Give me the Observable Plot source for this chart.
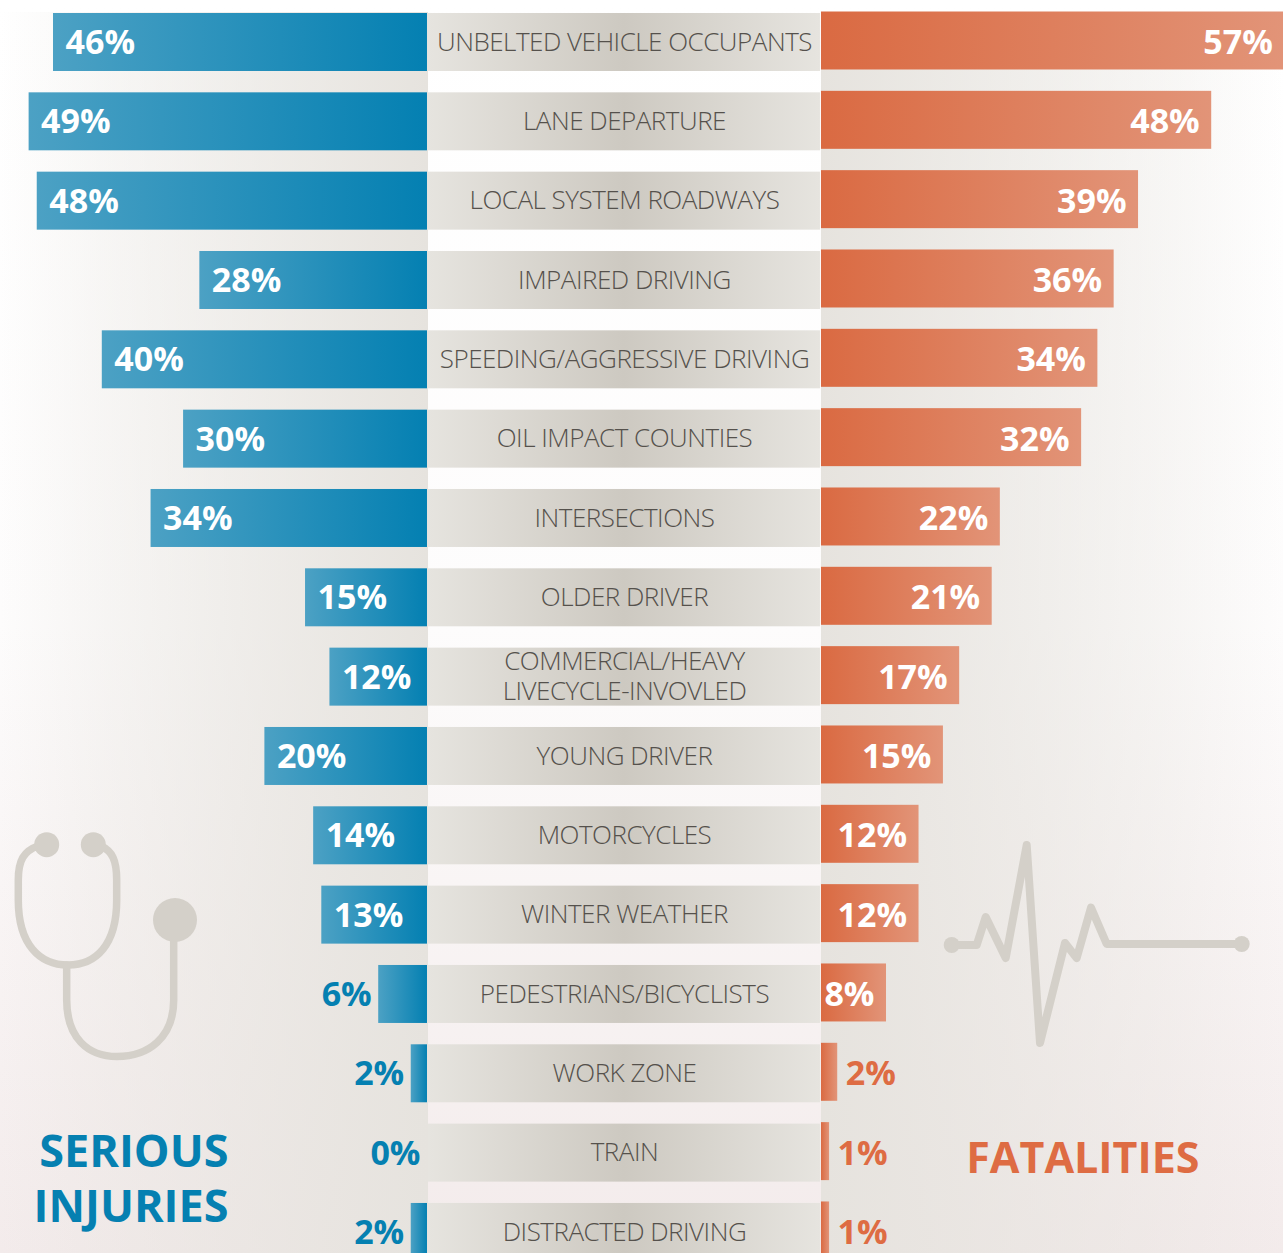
<!DOCTYPE html>
<html>
<head>
<meta charset="utf-8">
<script src="https://cdn.jsdelivr.net/npm/d3@7"></script>
<script src="https://cdn.jsdelivr.net/npm/@observablehq/plot@0.6"></script>
<style>
  html, body { margin: 0; padding: 0; background: #fff; }
  #chart {
    position: relative; width: 1283px; height: 1253px; overflow: hidden;
    background-repeat: no-repeat;
    background-image:
      linear-gradient(to right, rgba(230,227,222,0), rgba(230,227,222,.3) 25%, rgba(230,227,222,.55) 50%, rgb(230,227,222)),
      linear-gradient(to left, rgba(230,227,222,0), rgba(230,227,222,.3) 25%, rgba(230,227,222,.55) 50%, rgb(230,227,222)),
      linear-gradient(#fff 0%, #fdfcfc 50%, #f3ebeb 100%);
    background-size: 428px 1241px, 462px 1241px, 100% 100%;
    background-position: 0 12px, 821px 12px, 0 0;
  }
  #chart svg { display: block; }
  #chart g[font-size="26"] { letter-spacing: -0.5px; }
</style>
</head>
<body>
<div id="chart"></div>
<script>
const categories = [
  "UNBELTED VEHICLE OCCUPANTS", "LANE DEPARTURE", "LOCAL SYSTEM ROADWAYS", "IMPAIRED DRIVING",
  "SPEEDING/AGGRESSIVE DRIVING", "OIL IMPACT COUNTIES", "INTERSECTIONS", "OLDER DRIVER",
  "COMMERCIAL/HEAVY\nLIVECYCLE-INVOVLED", "YOUNG DRIVER", "MOTORCYCLES", "WINTER WEATHER",
  "PEDESTRIANS/BICYCLISTS", "WORK ZONE", "TRAIN", "DISTRACTED DRIVING"
];
const seriousInjuries = [46, 49, 48, 28, 40, 30, 34, 15, 12, 20, 14, 13, 6, 2, 0, 2];
const fatalities = [57, 48, 39, 36, 34, 32, 22, 21, 17, 15, 12, 12, 8, 2, 1, 1];

const BLUE = "#0580b1", ORANGE = "#de6c43";
const LABEL_FONT = "'Open Sans', 'Noto Sans', sans-serif";
const gapWidth = 48.46;               // width of the category band, in percentage points
const rows = categories.map((name, i) => ({name, injury: seriousInjuries[i], death: fatalities[i]}));

const defs = () => {
  const g = d3.create("svg:defs");
  g.html(`
    <linearGradient id="gBlue"><stop offset="0" stop-color="#4ca1c4"/><stop offset="1" stop-color="#0480b2"/></linearGradient>
    <linearGradient id="gOrange"><stop offset="0" stop-color="#da6a42"/><stop offset="1" stop-color="#e29478"/></linearGradient>
    <linearGradient id="gBand"><stop offset="0" stop-color="#e6e4df"/><stop offset=".5" stop-color="#cdc9c1"/><stop offset="1" stop-color="#e6e4df"/></linearGradient>`);
  return g.node();
};

// Decorative pictograms (not data)
const icons = () => {
  const g = d3.create("svg:g").attr("fill", "none").attr("stroke", "#d4d0c9")
    .attr("stroke-linecap", "round").attr("stroke-linejoin", "round");
  g.html(`
    <path stroke-width="7.5" d="M38 846C24 851 18.3 860 18.3 880L18.3 900C18.3 945 40 965 68 965C96 965 116.7 945 116.7 900L116.7 880C116.7 860 112 851 101 846"/>
    <path stroke-width="7.5" d="M66.7 965L66.7 1000C66.7 1038 88 1056.5 117 1056.5C148 1056.5 173.7 1038 173.7 1000L173.7 920"/>
    <circle cx="46.7" cy="844.7" r="12.5" fill="#d4d0c9" stroke="none"/>
    <circle cx="93.3" cy="844.7" r="12.5" fill="#d4d0c9" stroke="none"/>
    <circle cx="175" cy="920" r="22" fill="#d4d0c9" stroke="none"/>
    <path stroke-width="8" d="M951.7 945L976.7 945L985.7 917L1005.7 958L1026.7 845L1040 1043L1065 943L1076.7 958L1091 907.7L1106.7 944L1241.7 944"/>
    <circle cx="951.7" cy="945" r="8" fill="#d4d0c9" stroke="none"/>
    <circle cx="1241.7" cy="944" r="8" fill="#d4d0c9" stroke="none"/>`);
  return g.node();
};

const pctText = (d, key) => `${d[key]}%`;
const pct = {fontSize: 34, fontWeight: 700, dy: 0.5};
const heading = {fontFamily: LABEL_FONT, fontWeight: 700, textAnchor: "end", frameAnchor: "top-left", lineAnchor: "top"};

const plot = Plot.plot({
  width: 1283, height: 1253,
  marginTop: 0, marginRight: 0, marginBottom: 0, marginLeft: 0,
  style: {background: "transparent", fontFamily: LABEL_FONT},
  x: {axis: null, domain: [-52.52, 105.29], range: [0, 1283]},
  y: {axis: null, type: "band", domain: categories, range: [13, 1260.95], paddingInner: 0.269, paddingOuter: 0, align: 0, round: false},
  marks: [
    defs,
    icons,
    Plot.barX(rows, {y: "name", x1: 0, x2: gapWidth, fill: "url(#gBand)", insetLeft: 1, insetRight: 1}),
    Plot.barX(rows.filter(d => d.injury > 0), {y: "name", x1: d => -d.injury, x2: 0, fill: "url(#gBlue)"}),
    Plot.barX(rows, {y: "name", x1: gapWidth, x2: d => gapWidth + d.death, fill: "url(#gOrange)", dy: -1.5}),
    Plot.text(rows, {y: "name", x: gapWidth / 2, text: "name", fill: "#55514c", fontSize: 26, fontWeight: 300, lineHeight: 1.15, dy: -1.5}),
    Plot.text(rows.filter(d => d.injury >= 10), {...pct, y: "name", x: d => -d.injury, text: d => pctText(d, "injury"), fill: "#fff", textAnchor: "start", dx: 12}),
    Plot.text(rows.filter(d => d.injury < 10), {...pct, y: "name", x: d => -d.injury, text: d => pctText(d, "injury"), fill: BLUE, textAnchor: "end", dx: -7}),
    Plot.text(rows.filter(d => d.death >= 5), {...pct, y: "name", x: d => gapWidth + d.death, text: d => pctText(d, "death"), fill: "#fff", textAnchor: "end", dx: -12}),
    Plot.text(rows.filter(d => d.death < 5), {...pct, y: "name", x: d => gapWidth + d.death, text: d => pctText(d, "death"), fill: ORANGE, textAnchor: "start", dx: 8}),
    Plot.text(["SERIOUS\nINJURIES"], {...heading, fontSize: 45, fill: BLUE, dx: 228, dy: 1128, lineHeight: 1.22}),
    Plot.text(["FATALITIES"], {...heading, fontSize: 43, fill: ORANGE, dx: 1199, dy: 1142})
  ]
});
document.getElementById("chart").appendChild(plot);
</script>
</body>
</html>
